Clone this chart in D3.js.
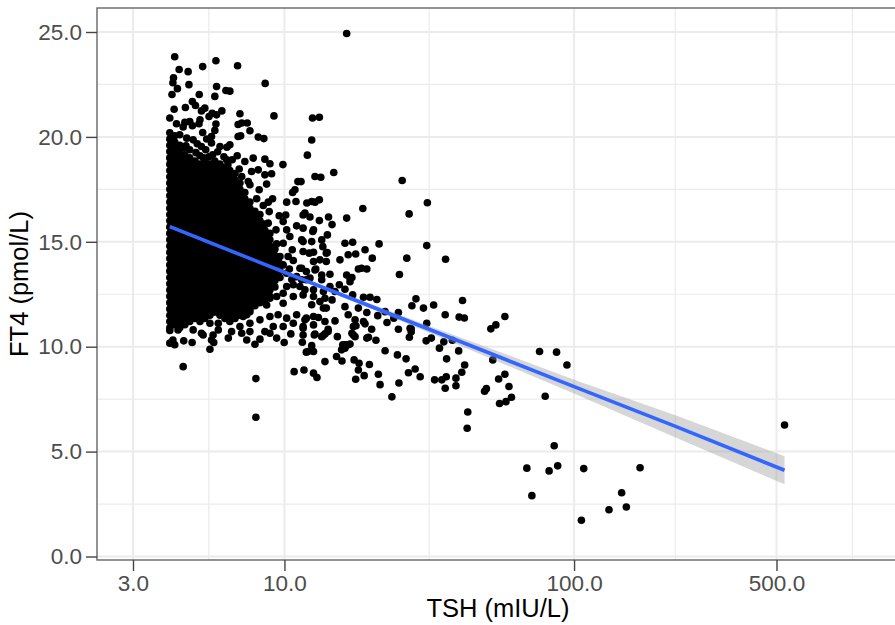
<!DOCTYPE html>
<html>
<head>
<meta charset="utf-8">
<script src="https://cdnjs.cloudflare.com/ajax/libs/d3/7.8.5/d3.min.js"></script>
<style>
  body { margin: 0; background: #fff; }
  text { font-family: "Liberation Sans", Arial, sans-serif; }
</style>
</head>
<body>
<div id="chart"></div>
<script>
const xTicks = [3, 10, 100, 500];
const xMinorTicks = [5.48, 31.6, 223.6, 914];
const yTicks = [0, 5, 10, 15, 20, 25];
const yMinorTicks = [2.5, 7.5, 12.5, 17.5, 22.5];

// fitted line and its confidence band
const fitTsh = [4.02, 10, 30, 52, 100, 224, 533];
const fitFt4 = [15.72, 13.55, 10.95, 9.65, 8.1, 6.2, 4.11];
const fitLower = [15.64, 13.49, 10.8, 9.41, 7.77, 5.67, 3.44];
const fitUpper = [15.8, 13.61, 11.1, 9.89, 8.43, 6.73, 4.78];

const coreTsh = [4.02, 4.18, 4.35, 4.53, 4.71, 4.91, 5.11, 5.31, 5.53, 5.75, 5.99, 6.23, 6.48, 6.75, 7.02, 7.3, 7.6, 7.91, 8.23, 8.56, 8.91, 9.27, 9.65];
const coreFt4 = [
  [10.9, 11.2, 11.5, 11.8, 12.1, 12.4, 12.7, 13, 13.3, 13.6, 13.9, 14.2, 14.5, 14.8, 15.1, 15.4, 15.7, 16, 16.3, 16.6, 16.9, 17.2, 17.5, 17.8, 18.1, 18.4, 18.7, 19, 19.3, 19.6, 19.9, 20.2],
  [11.05, 11.35, 11.65, 11.95, 12.25, 12.55, 12.85, 13.15, 13.45, 13.75, 14.05, 14.35, 14.65, 14.95, 15.25, 15.55, 15.85, 16.15, 16.45, 16.75, 17.05, 17.35, 17.65, 17.95, 18.25, 18.55, 18.85, 19.15, 19.45, 19.75, 20.05],
  [10.9, 11.2, 11.5, 11.8, 12.1, 12.4, 12.7, 13, 13.3, 13.6, 13.9, 14.2, 14.5, 14.8, 15.1, 15.4, 15.7, 16, 16.3, 16.6, 16.9, 17.2, 17.5, 17.8, 18.1, 18.4, 18.7, 19, 19.3, 19.6],
  [11.05, 11.35, 11.65, 11.95, 12.25, 12.55, 12.85, 13.15, 13.45, 13.75, 14.05, 14.35, 14.65, 14.95, 15.25, 15.55, 15.85, 16.15, 16.45, 16.75, 17.05, 17.35, 17.65, 17.95, 18.25, 18.55, 18.85, 19.15, 19.5],
  [11.2, 11.5, 11.8, 12.1, 12.4, 12.7, 13, 13.3, 13.6, 13.9, 14.2, 14.5, 14.8, 15.1, 15.4, 15.7, 16, 16.3, 16.6, 16.9, 17.2, 17.5, 17.8, 18.1, 18.4, 18.7, 19],
  [11.35, 11.65, 11.95, 12.25, 12.55, 12.85, 13.15, 13.45, 13.75, 14.05, 14.35, 14.65, 14.95, 15.25, 15.55, 15.85, 16.15, 16.45, 16.75, 17.05, 17.35, 17.65, 17.95, 18.25, 18.55, 18.85],
  [11.2, 11.5, 11.8, 12.1, 12.4, 12.7, 13, 13.3, 13.6, 13.9, 14.2, 14.5, 14.8, 15.1, 15.4, 15.7, 16, 16.3, 16.6, 16.9, 17.2, 17.5, 17.8, 18.1, 18.4, 18.7, 19.1],
  [11.35, 11.65, 11.95, 12.25, 12.55, 12.85, 13.15, 13.45, 13.75, 14.05, 14.35, 14.65, 14.95, 15.25, 15.55, 15.85, 16.15, 16.45, 16.75, 17.05, 17.35, 17.65, 17.95, 18.25, 18.55, 18.85],
  [11.5, 11.8, 12.1, 12.4, 12.7, 13, 13.3, 13.6, 13.9, 14.2, 14.5, 14.8, 15.1, 15.4, 15.7, 16, 16.3, 16.6, 16.9, 17.2, 17.5, 17.8, 18.1, 18.4, 18.7],
  [11.65, 11.95, 12.25, 12.55, 12.85, 13.15, 13.45, 13.75, 14.05, 14.35, 14.65, 14.95, 15.25, 15.55, 15.85, 16.15, 16.45, 16.75, 17.05, 17.35, 17.65, 17.95, 18.25, 18.55, 18.85],
  [11.5, 11.8, 12.1, 12.4, 12.7, 13, 13.3, 13.6, 13.9, 14.2, 14.5, 14.8, 15.1, 15.4, 15.7, 16, 16.3, 16.6, 16.9, 17.2, 17.5, 17.8, 18.1, 18.4, 18.7],
  [11.35, 11.65, 11.95, 12.25, 12.55, 12.85, 13.15, 13.45, 13.75, 14.05, 14.35, 14.65, 14.95, 15.25, 15.55, 15.85, 16.15, 16.45, 16.75, 17.05, 17.35, 17.65, 17.95, 18.25, 18.55],
  [11.2, 11.5, 11.8, 12.1, 12.4, 12.7, 13, 13.3, 13.6, 13.9, 14.2, 14.5, 14.8, 15.1, 15.4, 15.7, 16, 16.3, 16.6, 16.9, 17.2, 17.5, 17.8, 18.1, 18.4],
  [11.35, 11.65, 11.95, 12.25, 12.55, 12.85, 13.15, 13.45, 13.75, 14.05, 14.35, 14.65, 14.95, 15.25, 15.55, 15.85, 16.15, 16.45, 16.75, 17.05, 17.35, 17.65, 17.95, 18.25],
  [11.5, 11.8, 12.1, 12.4, 12.7, 13, 13.3, 13.6, 13.9, 14.2, 14.5, 14.8, 15.1, 15.4, 15.7, 16, 16.3, 16.6, 16.9, 17.2, 17.5, 17.8],
  [11.65, 11.95, 12.25, 12.55, 12.85, 13.15, 13.45, 13.75, 14.05, 14.35, 14.65, 14.95, 15.25, 15.55, 15.85, 16.15, 16.45, 16.75, 17.05, 17.35],
  [11.8, 12.1, 12.4, 12.7, 13, 13.3, 13.6, 13.9, 14.2, 14.5, 14.8, 15.1, 15.4, 15.7, 16, 16.3, 16.6, 16.9],
  [11.95, 12.25, 12.55, 12.85, 13.15, 13.45, 13.75, 14.05, 14.35, 14.65, 14.95, 15.25, 15.55, 15.85, 16.15, 16.45],
  [12.1, 12.4, 12.7, 13, 13.3, 13.6, 13.9, 14.2, 14.5, 14.8, 15.1, 15.4, 15.7, 16, 16.3],
  [12.25, 12.55, 12.85, 13.15, 13.45, 13.75, 14.05, 14.35, 14.65, 14.95, 15.25, 15.55, 15.85],
  [12.4, 12.7, 13, 13.3, 13.6, 13.9, 14.2, 14.5, 14.8, 15.1, 15.4],
  [12.85, 13.15, 13.45, 13.75, 14.05, 14.35, 14.65],
  [13.3, 13.6, 13.95, 14.3]
];

// loose points above the mass, [TSH, FT4]
const upperPoints = [
  [4.18,23.82],[4.33,23.21],[4.65,23.11],[5.22,23.35],[5.8,23.63],[6.89,23.39],[4.14,22.82],[4.12,22.58],[4.27,22.3],[4.68,22.49],
  [4.09,22.02],[5.08,22.02],[5.83,22.4],[6.28,22.21],[6.48,22.18],[5.75,21.93],[8.58,22.55],[4.81,21.69],[4.93,21.5],[4.16,21.32],
  [4.55,21.4],[5.31,21.37],[5.17,21.24],[6.08,21.24],[5.63,21.13],[5.49,20.97],[5.83,21.05],[7.02,21.1],[9.2,21],[4.02,20.9],
  [5.11,20.82],[5.07,20.63],[6.92,20.59],[7.12,20.66],[7.44,20.66],[5.8,20.61],[4.53,20.69],[4.71,20.73],[4.24,20.63],[4.81,20.53],
  [7.6,20.29],[5.75,20.31],[5.22,20.21],[4.47,20.47],[6.92,20.02],[7.06,20.05],[8.12,19.99],[8.49,19.92],[5.6,20.02],[5.39,19.9],
  [5.99,19.54],[6.48,19.62],[6.33,19.51],[4.35,20.1],[4.6,19.94],[4.84,19.86],[5.17,19.54],[5.6,19.71],[4.71,19.39],[4.95,19.25],
  [5.35,19.39],[5.65,19.15],[5.88,19.29],[6.18,19.05],[5.26,19],[4.57,19.58],[5,19.67],[5.49,19.05],[6.6,18.91],[6.38,18.67]
];

// the right-hand edge of the mass and the cloud running down from it
const middlePoints = [
  [9.88,18.68],[6.87,19.1],[7.3,18.83],[6.98,18.47],[7.8,18.99],[8.56,18.94],[8.91,18.72],[7.7,18.35],[8.12,18.43],[9.03,18.24],
  [8.56,18.19],[7.5,17.87],[7.12,18.11],[8.68,17.75],[8.18,17.48],[11.13,17.87],[10.87,17.48],[10.67,17.35],[10.18,16.89],[10.96,16.92],
  [9.1,17.05],[8.79,16.89],[8.45,16.73],[8.02,17.05],[7.48,16.68],[6.75,17.87],[6.32,18.91],[7.6,17.72],[11.41,17.87],[11.95,16.85],
  [8.86,16.44],[9.59,16.24],[10.1,16.28],[11.77,16.37],[12.25,16.18],[13.2,16.01],[14.2,16.18],[16.4,16.13],[18.65,16.59],[8.79,15.89],
  [9.9,15.97],[11.02,15.76],[11.6,15.65],[10.18,15.57],[12.6,15.57],[14.6,15.82],[9.35,15.57],[14.07,15.33],[10.44,15.25],[13.45,15.09],
  [11.47,15.09],[12.42,15.01],[16.18,14.93],[17.2,14.98],[21.22,14.9],[31,14.82],[13.57,14.77],[9.9,14.93],[10.64,14.62],[11.6,14.54],
  [12.6,14.5],[14.05,14.49],[18.98,14.62],[17.62,14.42],[16.6,14.38],[15.55,14.14],[20.1,14.22],[26.45,14.22],[36,14.17],[9.51,14.14],
  [10.73,14.11],[12.6,14.06],[13.95,14.06],[9.9,13.9],[11.31,13.74],[11.9,13.58],[12.75,13.66],[14.36,13.45],[13.45,13.42],[18,13.7],
  [18.45,13.74],[19.25,13.7],[24.95,13.44],[16.84,13.27],[16.4,13.42],[11.02,13.34],[10.18,13.5],[11.9,13.19],[13.45,13.19],[14.36,12.87],
  [15.47,12.95],[16.18,12.74],[10.73,12.95],[10.18,12.87],[11.31,12.87],[12.6,12.71],[13.63,12.63],[9.9,12.55],[18.75,12.36],[19.75,12.36],
  [20.85,12.25],[28.45,12.28],[41.2,12.2],[10.73,12.39],[11.6,12.47],[12.6,12.39],[14.6,12.23],[17.2,12.47],[9.4,12.39],[8.91,12.31],
  [7.8,12.36],[8.45,12.47],[8.68,11.99],[9.9,12.07],[13.26,12.15],[13.95,11.84],[16.18,11.91],[18,11.84],[19.25,11.63],[22.26,11.67],
  [24.75,11.63],[27.55,11.95],[30.2,11.84],[32.75,11.99],[35.9,11.52],[40.1,11.41],[41.8,11.37],[57.7,11.44],[53.7,11.04],[51.6,10.85],
  [12.53,15.49],[11.6,15.01],[13.95,14.46],[12.18,14.46],[13.26,14.14],[11.47,13.74],[12.83,13.7],[11.47,13.19],[12.25,13.27],[11.77,12.71],
  [13.8,12.31],[12.42,12],[13.63,11.84],[17.1,13.3],[16.84,13.1],[14.95,12.63],[9.1,12.95],[9.6,13.3],[9.4,14.9],[10.3,14.3],[10.4,13.7],[10.6,13.2]
];

// the lower fringe of the mass and the cloud under the fitted line
const lowerPoints = [
  [7.2,11.44],[7.6,11.67],[6.48,11.91],[6.75,11.52],[5.91,11.12],[5.53,11.12],[7.41,11.52],[8.23,11.28],[8.91,11.44],[9.51,11.52],
  [10.18,11.36],[11.02,11.52],[11.9,11.36],[12.6,11.44],[13.8,11.2],[14.95,11.23],[16.6,11.52],[17.53,11.28],[18.75,11.2],[21,11.48],
  [22.6,11.15],[31,11.12],[27.16,10.88],[24.75,10.83],[20,10.83],[17.3,10.96],[12.6,11.04],[11.6,10.96],[10.73,11.12],[9.9,10.96],
  [9.15,10.96],[8.56,10.72],[7.6,11.12],[7.02,10.96],[6.57,10.72],[5.91,10.8],[5.17,10.64],[4.84,10.8],[4.29,10.8],[4.02,10.77],
  [7.6,10.72],[7.12,10.64],[6.4,10.41],[5.67,10.56],[5.6,10.32],[5.24,10.56],[4.12,10.32],[4.02,10.17],[4.18,10.09],[4.49,10.28],
  [4.8,10.2],[5.7,10.2],[5.53,9.88],[7.41,10.32],[7.91,10.12],[8.23,10.36],[8.91,10.64],[9.4,10.41],[9.98,10.2],[10.52,10.61],
  [11.6,10.56],[12.68,10.56],[13.57,10.52],[14.15,10.72],[15.23,10.48],[17.3,10.56],[19.25,10.41],[20.7,10.31],[11.53,10.21],[12.42,10.05],
  [11.9,9.74],[12.6,9.77],[16.18,10.09],[15.75,9.85],[16.84,10.13],[22.26,9.81],[24.55,9.61],[26.3,9.42],[36.3,9.42],[13.8,9.29],
  [15.13,9.53],[15.8,9.32],[17.4,9.37],[18.1,9.21],[19.65,9.15],[4.47,9.05],[10.8,8.81],[11.68,8.89],[12.6,8.74],[12.95,8.53],
  [7.97,8.48],[7.97,6.64],[18,8.89],[18.85,8.62],[17.62,8.45],[21.1,8.69],[21.39,8.19],[24.85,8.27],[29.42,8.57],[28.27,8.94],
  [26.8,8.76],[33,8.42],[34.95,8.42],[36.2,8.57],[35.9,8.02],[41.9,9.13],[40.95,8.78],[39.1,8.5],[39.1,8.14],[34.3,9.93],
  [39.95,9.8],[35.5,10.23],[38,10.31],[32.15,10.41],[30.85,10.28],[27,10.45],[27.4,10.71],[27.4,10.85],[23.85,11.36],[52.4,9.37],
  [42.95,6.89],[42.75,6.11],[23.5,7.61],[49.8,8],[49.1,7.88],[54.9,8.46],[57.7,8.69],[59.6,8.1],[60.8,7.59],[58.2,7.38],[55.3,7.29],
  [11.77,11.28],[13.1,11.39],[11.6,10.88],[14.15,10.83],[12.75,10.6],[17.1,10.64],[13.8,10.61],[13.45,10.48],[19.5,10.45],[15.9,10.09],
  [16.6,10.09],[16.18,9.93],[12.07,9.77],[17.53,10.48],[17.66,11],[18.98,11.09]
];

// far points and the high ones off to the right
const farPoints = [
  [76,9.77],[87,9.74],[94.5,9.13],[79.5,7.64],[85.4,5.28],[68.7,4.21],[82,4.08],[87.8,4.32],[108,4.19],[169,4.23],
  [71.5,2.9],[146,3.04],[151.5,2.36],[132,2.23],[106,1.73],[533,6.27],[16.4,24.93],[12.5,20.9],[13.2,20.94],[12.42,19.85],
  [12,19.13],[12.75,18.11],[13.35,18.08],[14.8,18.3],[25.5,17.92],[31.15,16.86],[26.95,16.33],[13.2,17],[12.42,16.92],[12.75,16.89],[11.6,16.28]
];

const width = 895, height = 625;
const panel = { left: 97, top: 8, right: 900, bottom: 560 };

const x = d3.scaleLog().domain([3, 500]).range([133, 776.5]);
const y = d3.scaleLinear().domain([0, 25]).range([556.5, 32]);

const svg = d3.select('#chart').append('svg')
  .attr('width', width)
  .attr('height', height)
  .style('display', 'block');

svg.append('rect').attr('width', width).attr('height', height).attr('fill', '#fff');

// gridlines
const grid = svg.append('g');
function gridX(vals, w) {
  grid.selectAll(null).data(vals).enter().append('line')
    .attr('x1', d => x(d)).attr('x2', d => x(d))
    .attr('y1', panel.top).attr('y2', panel.bottom)
    .attr('stroke', '#ebebeb').attr('stroke-width', w);
}
function gridY(vals, w) {
  grid.selectAll(null).data(vals).enter().append('line')
    .attr('x1', panel.left).attr('x2', panel.right)
    .attr('y1', d => y(d)).attr('y2', d => y(d))
    .attr('stroke', '#ebebeb').attr('stroke-width', w);
}
gridX(xMinorTicks, 1.2);
gridY(yMinorTicks, 1.2);
gridX(xTicks, 2);
gridY(yTicks, 2);

// points
const corePoints = [];
coreTsh.forEach((t, i) => coreFt4[i].forEach(v => corePoints.push([t, v])));
const points = corePoints.concat(upperPoints, middlePoints, lowerPoints, farPoints);

svg.append('g').selectAll('circle').data(points).enter().append('circle')
  .attr('cx', d => x(d[0]))
  .attr('cy', d => y(d[1]))
  .attr('r', 3.8)
  .attr('fill', '#000');

// confidence band and fit
const fitRows = fitTsh.map((t, i) => ({ t: t, fit: fitFt4[i], lo: fitLower[i], hi: fitUpper[i] }));

svg.append('path')
  .datum(fitRows)
  .attr('d', d3.area().x(d => x(d.t)).y0(d => y(d.lo)).y1(d => y(d.hi)))
  .attr('fill', '#999999')
  .attr('fill-opacity', 0.4);

svg.append('path')
  .datum(fitRows)
  .attr('d', d3.line().x(d => x(d.t)).y(d => y(d.fit)))
  .attr('fill', 'none')
  .attr('stroke', '#3366FF')
  .attr('stroke-width', 3.6);

// panel border
svg.append('rect')
  .attr('x', panel.left).attr('y', panel.top)
  .attr('width', panel.right - panel.left).attr('height', panel.bottom - panel.top)
  .attr('fill', 'none')
  .attr('stroke', '#666')
  .attr('stroke-width', 1.4);

// axes
const xAxis = svg.append('g')
  .attr('transform', 'translate(0,' + panel.bottom + ')')
  .call(d3.axisBottom(x).tickValues(xTicks).tickFormat(d3.format('.1f')).tickSize(11).tickPadding(4));
const yAxis = svg.append('g')
  .attr('transform', 'translate(' + panel.left + ',0)')
  .call(d3.axisLeft(y).tickValues(yTicks).tickFormat(d3.format('.1f')).tickSize(11).tickPadding(4));

[xAxis, yAxis].forEach(a => {
  a.select('.domain').remove();
  a.selectAll('.tick line').attr('stroke', '#444').attr('stroke-width', 1.4);
  a.selectAll('.tick text')
    .attr('fill', '#4d4d4d')
    .style('font-size', '22.5px')
    .style('font-family', '"Liberation Sans", Arial, sans-serif');
});

svg.append('text')
  .attr('x', 498).attr('y', 617)
  .attr('text-anchor', 'middle')
  .style('font-size', '25.5px')
  .text('TSH (mIU/L)');

svg.append('text')
  .attr('transform', 'translate(28,284) rotate(-90)')
  .attr('text-anchor', 'middle')
  .style('font-size', '25.5px')
  .text('FT4 (pmol/L)');
</script>
</body>
</html>
